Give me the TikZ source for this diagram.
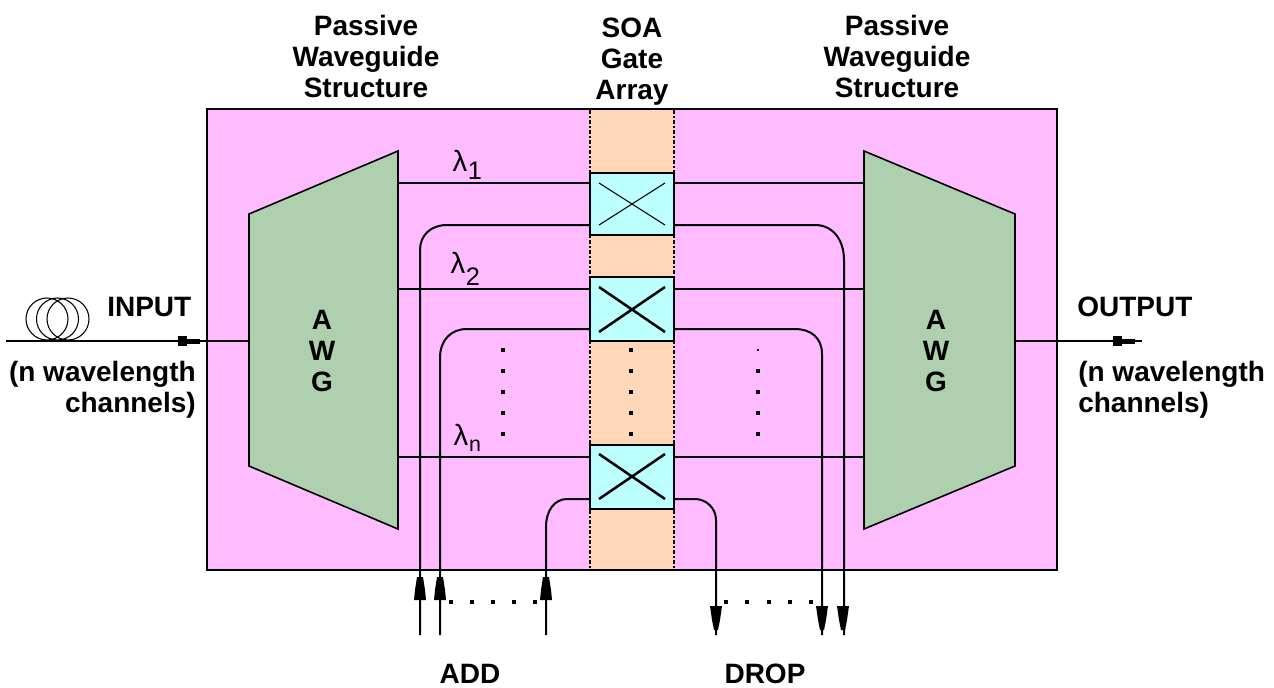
\documentclass[tikz,border=0pt]{standalone}
\usepackage{fontspec}
\setmainfont{Liberation Sans}[BoldFont={Liberation Sans Bold}]
\newfontfamily\lamfont{Liberation Sans}
\definecolor{chip}{HTML}{FFBBFF}
\definecolor{strip}{HTML}{FFD7BB}
\definecolor{awgc}{HTML}{AFD0AF}
\definecolor{soac}{HTML}{BBFFFF}
\tikzset{
  x=0.75pt,y=-0.75pt,
  wire/.style={line width=1.5pt,black},
  lbl/.style={font=\bfseries\fontsize{21}{23.25}\selectfont,inner sep=0pt,anchor=center},
  lamb/.style={font=\lamfont\fontsize{22}{24}\selectfont,inner sep=0pt},
  sub/.style={font=\lamfont\fontsize{19}{21}\selectfont,inner sep=0pt},
  subn/.style={font=\lamfont\fontsize{16}{18}\selectfont,inner sep=0pt},
  gatebox/.style={draw=black,line width=1.6pt,fill=soac,minimum width=63pt,inner sep=0pt,outer sep=0pt,anchor=north west},
  awgshape/.style={fill=awgc,draw=black,line width=1.2pt,line join=miter},
  dotm/.style={fill=black,minimum size=3pt,inner sep=0pt},
  dots/.style={fill=black,minimum size=1.8pt,inner sep=0pt},
  stripedge/.style={line width=1.5pt,dash pattern=on 3pt off 1.5pt on 1.5pt off 1.5pt},
  headfill/.style={fill=black,draw=none},
  crossthin/.style={line width=0.8pt},
  crossthick/.style={line width=1.9pt},
}
\begin{document}
\begin{tikzpicture}
\useasboundingbox (0,0) rectangle (1274,687);
% chip and strip
\node[draw=black,line width=1.5pt,fill=chip,minimum width=637.5pt,minimum height=345.75pt,inner sep=0pt,outer sep=0pt,anchor=north west] (chip) at (207,109) {};
\fill[strip] (590,110) rectangle (674,569);
\coordinate (s1t) at (590,110); \coordinate (s1b) at (590,569);
\coordinate (s2t) at (674,110); \coordinate (s2b) at (674,569);
\draw[stripedge] (s1t) -- (s1b);
\draw[stripedge] (s2t) -- (s2b);
% AWGs
\draw[awgshape] (249,214) -- (398,151) -- (398,529) -- (249,466) -- cycle;
\draw[awgshape] (864,151) -- (1015,214) -- (1015,466) -- (864,529) -- cycle;
\node[lbl,align=center] (awgL) at (322,351) {A\\W\\G};
\node[lbl,align=center] (awgR) at (936,351) {A\\W\\G};
\coordinate (aLin) at (249,341); \coordinate (aRout) at (1015,341);
% SOA gates
\node[gatebox,minimum height=46.5pt] (g1) at (590,173) {};
\node[gatebox,minimum height=48pt] (g2) at (590,277) {};
\node[gatebox,minimum height=48pt] (g3) at (590,445) {};
\draw[crossthin] (599,183) -- (665,225) (599,225) -- (665,183);
\draw[crossthick] (599,287) -- (665,332) (599,332) -- (665,287);
\draw[crossthick] (599,454) -- (665,499) (599,499) -- (665,454);
% straight waveguides
\foreach \yy/\gg in {183/g1,289/g2,457/g3}{
  \draw[wire] (398,\yy) -- (590,\yy);
  \draw[wire] (674,\yy) -- (864,\yy);
}
% curved waveguides
\draw[wire] (590,225) -- (447,225) .. controls (431,225) and (420,235) .. (420,250) -- (420,635);
\draw[wire] (674,225) -- (815,225) .. controls (833,225) and (844,240) .. (844,260) -- (844,635);
\draw[wire] (590,329) -- (467,329) .. controls (451,329) and (440,340) .. (440,358) -- (440,635);
\draw[wire] (674,329) -- (795,329) .. controls (811,329) and (822,338) .. (822,354) -- (822,635);
\draw[wire] (590,499) -- (567,499) .. controls (555,499) and (546,510) .. (546,527) -- (546,635);
\draw[wire] (674,499) -- (695,499) .. controls (706,499) and (716,508) .. (716,520) -- (716,635);
% input/output
\draw[wire] (6,341) -- (aLin);
\draw[wire] (aRout) -- (1142,341);
\fill (178,336) rectangle (187,346); \fill (187,338.5) rectangle (200,343.5);
\fill (1113,336) rectangle (1122,346); \fill (1122,338.5) rectangle (1135,343.5);
% fibre coil
\draw[line width=0.8pt] (47,319) ellipse (21 and 21);
\draw[line width=0.8pt] (57.5,319) ellipse (21 and 21);
\draw[line width=0.8pt] (68,319) ellipse (21 and 21);
% arrowheads
\foreach \xx in {420,440,546}{\fill[headfill] (\xx-3,577) -- (\xx+3,577) -- (\xx+5,590) -- (\xx+6,600) -- (\xx-6,600) -- (\xx-5,590) -- cycle;}
\foreach \xx in {716,822,843}{\fill[headfill] (\xx-6,606) -- (\xx+6,606) -- (\xx+4,620) -- (\xx+2,630) -- (\xx-2,630) -- (\xx-4,620) -- cycle;}
% dots
\foreach \xx in {451,472,493,514,535,726,747,769,790,811}{\node[dotm] at (\xx,602) {};}
\foreach \xx in {503,631}{\foreach \yy in {350,371,392,413,434}{\node[dotm] at (\xx,\yy) {};}}
\node[dots] at (758,350) {};
\foreach \yy in {371,392,413,434}{\node[dotm] at (758,\yy) {};}
% lambdas
\node[lamb] (l1) at (460,161) {λ}; \node[sub] at (475,171) {1};
\node[lamb] (l2) at (458,263) {λ}; \node[sub] at (473,277) {2};
\node[lamb] (ln) at (461,435) {λ}; \node[subn] at (475,446) {n};
% labels
\node[lbl,align=center] at (366,56) {Passive\\Waveguide\\Structure};
\node[lbl,align=center] at (632,62) {SOA\\Gate\\Array};
\node[lbl,align=center] at (897,56) {Passive\\Waveguide\\Structure};
\node[lbl,anchor=west] at (107,307) {INPUT};
\node[lbl,anchor=west] at (1077,307) {OUTPUT};
\node[lbl,align=right,anchor=east] at (196,390) {(n wavelength\\channels)};
\node[lbl,align=left,anchor=west] at (1078,390) {(n wavelength\\channels)};
\node[lbl] at (470,674) {ADD};
\node[lbl] at (765,674) {DROP};
\end{tikzpicture}
\end{document}
